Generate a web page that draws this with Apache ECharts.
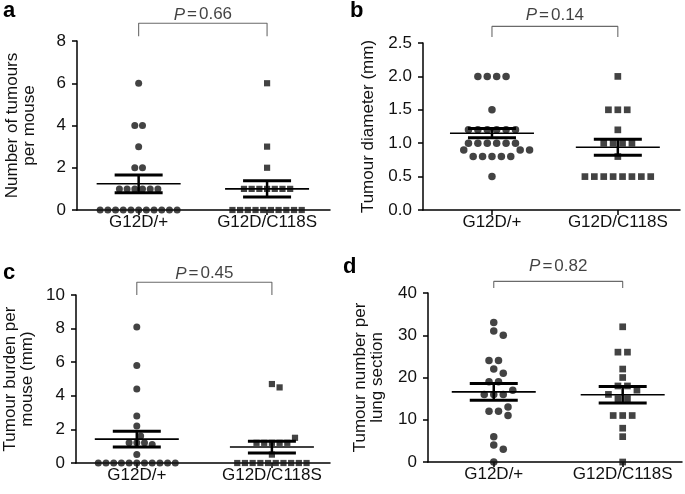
<!DOCTYPE html>
<html><head><meta charset="utf-8">
<script src="https://cdn.jsdelivr.net/npm/echarts@6/dist/echarts.min.js"></script>
<style>html,body{margin:0;padding:0;background:#fff}#c{width:685px;height:494px}</style>
</head><body><div id="c"></div>
<script>
// ---------- data ----------
const groups = ['G12D/+', 'G12D/C118S'];

const aTitle = 'Number of tumours\nper mouse';
const aWT  = [6, 4, 4, 3, 2, 2, 1, 1, 1, 1, 1, 1, 0, 0, 0, 0, 0, 0, 0, 0, 0, 0, 0];
const aMut = [6, 3, 2, 1, 1, 1, 1, 1, 1, 1, 0, 0, 0, 0, 0, 0, 0, 0, 0, 0];
const aMean = [1.24, 1.0];
const aSem  = [0.42, 0.39];
const aP = '0.66';

const bTitle = 'Tumour diameter (mm)';
const bWT  = [2.0, 2.0, 2.0, 2.0, 1.5, 1.2, 1.2, 1.2, 1.2, 1.2, 1.2, 1.0, 1.0, 1.0, 1.0, 1.0, 1.0, 0.9, 0.9, 0.9, 0.8, 0.8, 0.8, 0.8, 0.8, 0.5];
const bMut = [2.0, 1.5, 1.5, 1.5, 1.2, 1.0, 1.0, 1.0, 1.0, 0.8, 0.5, 0.5, 0.5, 0.5, 0.5, 0.5, 0.5, 0.5];
const bMean = [1.15, 0.94];
const bSem  = [0.07, 0.12];
const bP = '0.14';

const cTitle = 'Tumour burden per\nmouse (mm)';
const cWT  = [8.1, 5.8, 4.4, 2.8, 2.2, 1.6, 1.2, 1.1, 1.2, 1.2, 0.5, 0, 0, 0, 0, 0, 0, 0, 0, 0, 0, 0];
const cMut = [4.7, 4.5, 1.5, 1.2, 1.2, 1.2, 1.2, 1.2, 0.5, 0, 0, 0, 0, 0, 0, 0, 0, 0, 0];
const cMean = [1.42, 0.95];
const cSem  = [0.47, 0.35];
const cP = '0.45';

const dTitle = 'Tumour number per\nlung section';
const dWT  = [33, 31, 30, 24, 24, 22, 21, 19, 19, 17, 16, 16, 16, 13, 12, 12, 11, 6, 4, 3, 0];
const dMut = [32, 26, 26, 22, 20, 18, 18, 17, 16, 15, 15, 11, 11, 11, 8, 6, 0];
const dMean = [16.6, 15.9];
const dSem  = [2.0, 1.95];
const dP = '0.82';

const aTicks = {max: 8, interval: 2, dec: 0};
const bTicks = {max: 2.5, interval: 0.5, dec: 1};
const cTicks = {max: 10, interval: 2, dec: 0};
const dTicks = {max: 40, interval: 10, dec: 0};

// ---------- layout / style ----------
const FONT = '"Liberation Sans", Arial, Helvetica, sans-serif';
const FS = 17;
const TXT = '#111';
const panels = [
  {letter: 'a', lx: 3, ly: 0, wt: aWT, mut: aMut, mean: aMean, sem: aSem, p: aP, title: aTitle, t: aTicks,
   grid: {left: 77, top: 41, width: 253, height: 169}, xr: [0.52, 2.49], nameGap: 40, s: 7.7, d: 7, br: [17.7, 4.7], tg: 0},
  {letter: 'b', lx: 350, ly: 0, wt: bWT, mut: bMut, mean: bMean, sem: bSem, p: bP, title: bTitle, t: bTicks,
   grid: {left: 423, top: 43, width: 257, height: 167}, xr: [0.452, 2.494], nameGap: 47, s: 9.4, d: 7.5, br: [16.6, 6], tg: 3},
  {letter: 'c', lx: 3, ly: 262, wt: cWT, mut: cMut, mean: cMean, sem: cSem, p: cP, title: cTitle, t: cTicks,
   grid: {left: 76, top: 295, width: 254, height: 168}, xr: [0.55, 2.43], nameGap: 41, s: 7.7, d: 7, br: [12.7, 0], tg: 0},
  {letter: 'd', lx: 343, ly: 256, wt: dWT, mut: dMut, mean: dMean, sem: dSem, p: dP, title: dTitle, t: dTicks,
   grid: {left: 428, top: 293, width: 254, height: 169}, xr: [0.49, 2.46], nameGap: 43, s: 9.5, d: 7.5, br: [11.6, 5], tg: 7}
];

// simple beeswarm: identical values form centred rows; others avoid collisions
function swarm(values, center, pxX, pxY, s, d) {
  const counts = new Map();
  values.forEach(v => counts.set(v, (counts.get(v) || 0) + 1));
  const rows = [...counts.entries()].sort((a, b) => b[1] - a[1] || b[0] - a[0]);
  const placed = [];
  const collide = (x, y) => placed.some(p => Math.hypot(p.x - x, p.y - y) < d - 0.01);
  rows.forEach(([v, n]) => {
    const y = v * pxY;
    const xs = [];
    for (let i = 0; i < n; i++) xs.push((i - (n - 1) / 2) * s);
    if (!xs.some(x => collide(x, y))) { xs.forEach(x => placed.push({x, y, v})); return; }
    for (let i = 0; i < n; i++) {
      for (let k = 0; k < 400; k++) {
        const off = (k % 2 === 1 ? 1 : -1) * Math.ceil(k / 2) * s / 2;
        if (!collide(off, y)) { placed.push({x: off, y, v}); break; }
      }
    }
  });
  return placed.map(p => [center + p.x / pxX, p.v]);
}

const grids = [], xAxes = [], yAxes = [], series = [], graphics = [];
panels.forEach((P, i) => {
  grids.push(P.grid);
  const pxX = P.grid.width / (P.xr[1] - P.xr[0]);
  const pxY = P.grid.height / P.t.max;
  xAxes.push({
    type: 'value', gridIndex: i, min: P.xr[0], max: P.xr[1],
    axisLine: {show: true, lineStyle: {color: '#000', width: 1.5}},
    splitLine: {show: false},
    axisTick: {show: true, customValues: [1, 2], length: 5, lineStyle: {color: '#000', width: 1.5}},
    axisLabel: {customValues: [1, 2], formatter: v => groups[Math.round(v) - 1], fontSize: FS, color: TXT, margin: 4, fontFamily: FONT}
  });
  yAxes.push({
    type: 'value', gridIndex: i, min: 0, max: P.t.max, interval: P.t.interval,
    axisLine: {show: true, lineStyle: {color: '#000', width: 1.5}},
    axisTick: {show: true, length: 5, lineStyle: {color: '#000', width: 1.5}},
    splitLine: {show: false},
    axisLabel: {formatter: v => v.toFixed(P.t.dec), fontSize: FS, color: TXT, margin: 11, fontFamily: FONT},
    name: P.title, nameLocation: 'middle', nameRotate: 90, nameGap: P.nameGap - 1,
    nameTextStyle: {fontSize: FS, color: TXT, lineHeight: 17, fontFamily: FONT}
  });
  // dots
  [P.wt, P.mut].forEach((vals, g) => {
    series.push({
      type: 'scatter', xAxisIndex: i, yAxisIndex: i,
      data: swarm(vals, g + 1, pxX, pxY, P.s, P.d),
      symbol: g === 0 ? 'circle' : 'rect', symbolSize: g === 0 ? P.d : P.d - 0.8,
      itemStyle: {color: '#141414'}, z: 3, silent: true
    });
  });
  // mean +/- SEM
  series.push({
    type: 'custom', xAxisIndex: i, yAxisIndex: i, z: 5, silent: true,
    data: [[1, P.mean[0], P.sem[0]], [2, P.mean[1], P.sem[1]]],
    renderItem: (params, api) => {
      const c = api.value(0), m = api.value(1), s = api.value(2);
      const pm = api.coord([c, m]), pu = api.coord([c, m + s]), pl = api.coord([c, m - s]);
      const MH = 42, SH = 24;
      const st = w => ({stroke: '#000', lineWidth: w});
      return {type: 'group', children: [
        {type: 'line', shape: {x1: pm[0] - MH, y1: pm[1], x2: pm[0] + MH, y2: pm[1]}, style: st(1.6)},
        {type: 'line', shape: {x1: pu[0] - SH, y1: pu[1], x2: pu[0] + SH, y2: pu[1]}, style: st(3)},
        {type: 'line', shape: {x1: pl[0] - SH, y1: pl[1], x2: pl[0] + SH, y2: pl[1]}, style: st(3)},
        {type: 'line', shape: {x1: pu[0], y1: pu[1], x2: pl[0], y2: pl[1]}, style: st(2.5)}
      ]};
    }
  });
  // bracket + P value
  const yTop = P.t.max + P.br[0] / pxY, yEnd = P.t.max + P.br[1] / pxY;
  series.push({
    type: 'line', xAxisIndex: i, yAxisIndex: i, clip: false, silent: true,
    data: [[1, yEnd], [1, yTop], [2, yTop], [2, yEnd]], symbol: 'none',
    lineStyle: {color: '#6a6a6a', width: 1.1}
  });
  series.push({
    type: 'scatter', xAxisIndex: i, yAxisIndex: i, clip: false, silent: true,
    data: [[1.5, yTop]], symbolSize: 0,
    label: {show: true, position: 'top', distance: P.tg,
      formatter: '{i|P}{e|=}{n|' + P.p + '}',
      rich: {i: {fontStyle: 'italic', fontSize: FS, color: TXT, fontFamily: FONT},
             e: {fontSize: FS, color: TXT, fontFamily: FONT, padding: [0, 2, 0, 2]},
             n: {fontSize: FS, color: TXT, fontFamily: FONT}}}
  });
  graphics.push({type: 'text', left: P.lx, top: P.ly,
    style: {text: P.letter, font: 'bold 22px ' + FONT, fill: '#000'}});
});

const chart = echarts.init(document.getElementById('c'), null, {renderer: 'canvas'});
chart.setOption({
  animation: false,
  backgroundColor: '#fff',
  textStyle: {fontFamily: FONT},
  grid: grids, xAxis: xAxes, yAxis: yAxes, series: series, graphic: graphics
});
</script></body></html>
